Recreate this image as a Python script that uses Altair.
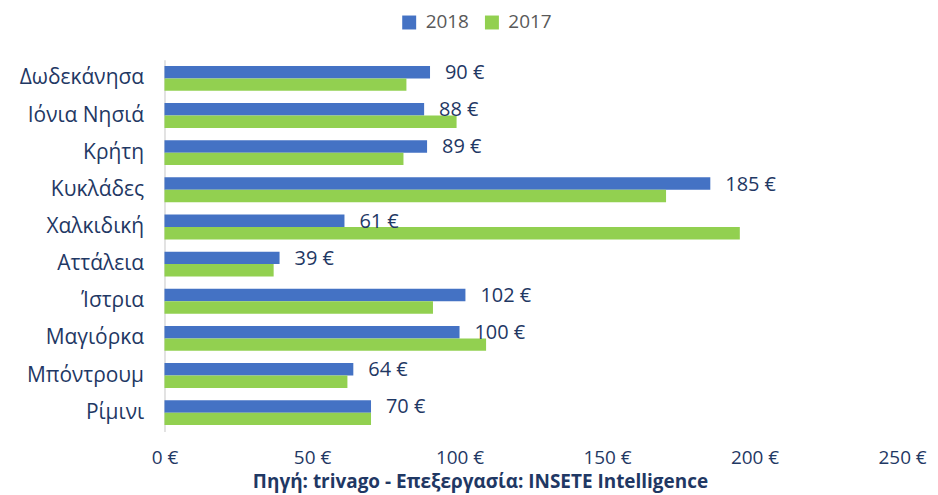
import altair as alt
import pandas as pd

categories = ["Δωδεκάνησα", "Ιόνια Νησιά", "Κρήτη", "Κυκλάδες", "Χαλκιδική",
              "Αττάλεια", "Ίστρια", "Μαγιόρκα", "Μπόντρουμ", "Ρίμινι"]
values_2018 = [90, 88, 89, 185, 61, 39, 102, 100, 64, 70]
values_2017 = [82, 99, 81, 170, 195, 37, 91, 109, 62, 70]
series_names = ["2018", "2017"]
x_ticks = [0, 50, 100, 150, 200, 250]

rows = []
for c, v18, v17 in zip(categories, values_2018, values_2017):
    rows.append({"cat": c, "series": "2018", "value": v18})
    rows.append({"cat": c, "series": "2017", "value": v17})
df = pd.DataFrame(rows)

FONT = "Open Sans"
NAVY = "#1F3864"

y_enc = alt.Y("cat:N", sort=categories, title=None,
              scale=alt.Scale(paddingInner=0.33, paddingOuter=0.17),
              axis=alt.Axis(labelFont=FONT, labelFontSize=21, labelColor=NAVY,
                            ticks=False, domainColor="#D9D9D9", domainWidth=1.5,
                            labelPadding=21))
x_enc = alt.X("value:Q", title=None,
              scale=alt.Scale(domain=[0, 250], nice=False),
              axis=alt.Axis(values=x_ticks, labelExpr="datum.value + ' €'",
                            labelFont=FONT, labelFontSize=19, labelColor=NAVY,
                            labelFlush=False, labelOverlap=False,
                            grid=False, domain=False, ticks=False, labelPadding=17))
yoff = alt.YOffset("series:N", sort=series_names,
                   scale=alt.Scale(domain=series_names, paddingInner=0, paddingOuter=0))

bars = alt.Chart(df).mark_bar().encode(
    y=y_enc, x=x_enc, yOffset=yoff,
    color=alt.Color("series:N", sort=series_names,
                    scale=alt.Scale(domain=series_names, range=["#4472C4", "#92D050"]),
                    legend=alt.Legend(title=None, orient="none", direction="horizontal",
                                      legendX=236, legendY=-47,
                                      symbolType="square", symbolSize=196,
                                      symbolStrokeWidth=0,
                                      labelFont=FONT, labelFontSize=19, labelColor="#595959",
                                      columnPadding=13, labelOffset=7)),
)

labels = alt.Chart(df).transform_filter(alt.datum.series == "2018").mark_text(
    align="left", baseline="middle", dx=15, dy=1, font=FONT, fontSize=20, color=NAVY
).encode(
    y=alt.Y("cat:N", sort=categories), x="value:Q", yOffset=yoff,
    text=alt.Text("label:N"),
).transform_calculate(label="datum.value + ' €'")

chart = alt.layer(bars, labels).properties(
    width=740, height=373,
    padding={"left": 157, "top": 51, "right": 28, "bottom": 66},
    autosize=alt.AutoSizeParams(type="none"),
    title=alt.TitleParams("Πηγή: trivago - Επεξεργασία: INSETE Intelligence",
                          orient="bottom", anchor="middle", dx=-53, offset=6,
                          font=FONT, fontSize=19, fontWeight="bold", color=NAVY),
).configure_view(stroke=None)

chart.save("out.html", embed_options={"renderer": "svg", "actions": False})
